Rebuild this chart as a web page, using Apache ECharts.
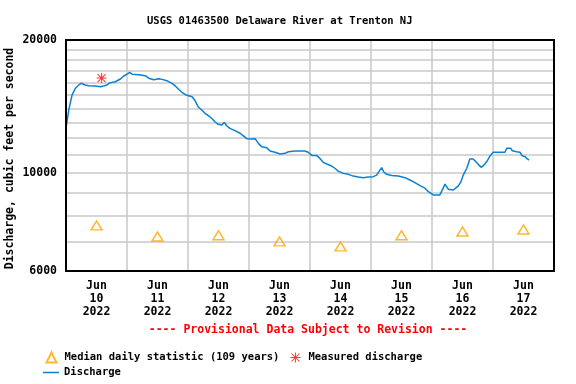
<!DOCTYPE html>
<html>
<head>
<meta charset="utf-8">
<script src="https://cdn.jsdelivr.net/npm/echarts@6/dist/echarts.min.js"></script>
<style>html,body{margin:0;padding:0;background:#fff}#c{width:576px;height:384px}</style>
</head>
<body>
<div id="c"></div>
<script>
// Discharge: hours after 2022-06-10 00:00, cubic feet per second
const dischargeHours = [0,1.1,2.4,3.7,5.0,5.9,7.6,8.9,11.5,13.5,14.8,16.1,17.4,19.4,21.4,22.7,24.0,25.1,26.0,28.6,31.2,32.5,34.5,36.5,37.8,39.7,41.7,43.0,44.3,45.6,47.2,49.6,50.8,52.0,53.4,54.7,56.0,57.3,58.6,59.9,61.3,62.3,63.2,64.5,66.5,68.5,69.8,71.1,73.0,74.4,75.7,77.0,79.0,80.3,82.2,84.2,84.9,86.2,87.5,90.1,94.0,95.3,96.7,98.6,99.3,99.9,101.2,102.6,104.5,105.8,107.1,109.1,111.1,113.0,115.0,117.0,118.9,120.9,122.2,123.1,124.2,125.1,126.2,128.1,130.7,133.4,135.3,137.3,139.3,141.2,142.6,144.5,147.1,147.8,148.4,149.1,149.8,150.4,152.4,153.3,154.3,155.4,156.3,157.7,158.9,160.2,160.9,162.2,163.3,164.2,165.5,166.8,168.1,170.1,172.7,173.4,174.0,175.0,175.6,177.3,178.6,179.5,180.6,181.5,182.2];
const dischargeValues = [12640,13890,15020,15550,15820,15960,15820,15760,15740,15680,15740,15820,16010,16090,16320,16580,16750,16900,16730,16690,16610,16390,16260,16350,16290,16180,15960,15740,15470,15230,15020,14880,14570,14120,13890,13650,13480,13300,13060,12890,12840,13020,12790,12620,12470,12300,12130,11960,11940,11960,11670,11460,11400,11210,11140,11040,10960,11080,11170,11210,11210,11140,10960,10960,11020,10790,10570,10480,10370,10250,10100,9980,9930,9840,9790,9760,9790,9810,9890,10070,10280,10040,9930,9870,9840,9760,9640,9510,9360,9240,9070,8920,8920,9000,9240,9440,9360,9190,9150,9240,9340,9560,9890,10250,10760,10760,10650,10460,10300,10390,10600,10920,11140,11140,11140,11370,11460,11370,11230,11170,11140,10940,10890,10760,10700];
// Median daily statistic (109 years), one per day, plotted at noon (hours after Jun 10 00:00)
const medianHours = [12,36,60,84,108,132,156,180];
const medianValues = [7610,7180,7230,7000,6820,7230,7370,7450];
// Measured discharge
const measuredHours = [14.0];
const measuredValues = [16400];
// Axis labels
const yLabelValues = [6000,10000,20000];
const yGridValues = [6000,7000,8000,9000,10000,11000,12000,13000,14000,15000,16000,17000,18000,19000,20000];
const xLabelHours = [12,36,60,84,108,132,156,180];
const xLabelDays = ['10','11','12','13','14','15','16','17'];
const monthName = 'Jun';
const yearName = '2022';

const dischargeData = dischargeHours.map((h, i) => [h, dischargeValues[i]]);
const medianData = medianHours.map((h, i) => [h, medianValues[i]]);
const measuredData = measuredHours.map((h, i) => [h, measuredValues[i]]);

const FONT = '"DejaVu Sans Mono", monospace';
const asterisk = 'path://M9,0L11,0L11,20L9,20Z M0,9L20,9L20,11L0,11Z M1.3,2.7L2.7,1.3L18.7,17.3L17.3,18.7Z M17.3,1.3L18.7,2.7L2.7,18.7L1.3,17.3Z';

const chart = echarts.init(document.getElementById('c'), null, {renderer: 'canvas'});
chart.setOption({
  animation: false,
  backgroundColor: '#fff',
  textStyle: {fontFamily: FONT},
  grid: {left: 66, right: 22, top: 40, bottom: 113, containLabel: false, outerBoundsMode: 'none', show: true, borderColor: '#000', borderWidth: 2, backgroundColor: 'transparent', z: 5},
  xAxis: {
    type: 'value',
    min: 0, max: 192, interval: 24,
    axisLine: {show: false},
    axisTick: {show: false},
    splitLine: {show: true, lineStyle: {color: '#c8c8c8', width: 1.5}},
    axisLabel: {
      customValues: xLabelHours,
      margin: 9,
      fontFamily: FONT, fontWeight: 'bold', fontSize: 11.5, color: '#000', lineHeight: 13,
      formatter: v => monthName + '\n' + xLabelDays[xLabelHours.indexOf(v)] + '\n' + yearName
    }
  },
  yAxis: {
    type: 'log',
    min: 6000, max: 20000,
    axisLine: {show: false},
    axisTick: {show: false, customValues: yGridValues},
    splitLine: {show: true, lineStyle: {color: '#c8c8c8', width: 1.5}},
    axisLabel: {customValues: yLabelValues, margin: 9, fontFamily: FONT, fontWeight: 'bold', fontSize: 11.5, color: '#000', formatter: v => String(Math.round(v))},
    name: 'Discharge, cubic feet per second',
    nameLocation: 'middle', nameRotate: 90, nameGap: 50, nameMoveOverlap: false,
    nameTextStyle: {fontFamily: FONT, fontWeight: 'bold', fontSize: 11.5, color: '#000', padding: [0, 6, 0, 0]}
  },
  legend: [
    {
      left: 44, top: 350, padding: 0, orient: 'horizontal', itemWidth: 10, itemHeight: 10, itemGap: 11,
      textStyle: {fontFamily: FONT, fontWeight: 'bold', fontSize: 10.5, color: '#000', padding: [0, 0, 0, 3]},
      data: ['Median daily statistic (109 years)', 'Measured discharge'],
      selectedMode: false
    },
    {
      left: 43, top: 367, padding: 0, orient: 'horizontal', itemWidth: 16, itemHeight: 1.5,
      textStyle: {fontFamily: FONT, fontWeight: 'bold', fontSize: 10.5, color: '#000'},
      data: [{name: 'Discharge', icon: 'rect'}],
      selectedMode: false
    }
  ],
  graphic: [
    {type: 'text', left: 147, top: 16, style: {text: 'USGS 01463500 Delaware River at Trenton NJ', font: 'bold 10.5px ' + FONT, fill: '#000'}},
    {type: 'text', x: 308, y: 330, style: {text: '---- Provisional Data Subject to Revision ----', font: 'bold 11.5px ' + FONT, fill: '#ff0000', align: 'center', verticalAlign: 'middle'}}
  ],
  series: [
    {
      name: 'Discharge', type: 'line', data: dischargeData, showSymbol: false, symbol: 'none',
      lineStyle: {color: '#0a80d2', width: 1.5}, itemStyle: {color: '#0a80d2'}, z: 3
    },
    {
      name: 'Median daily statistic (109 years)', type: 'scatter', data: medianData,
      symbol: 'triangle', symbolSize: [11, 9],
      itemStyle: {color: 'none', borderColor: '#ffa500', borderWidth: 1.5}, z: 4
    },
    {
      name: 'Measured discharge', type: 'scatter', data: measuredData,
      symbol: asterisk, symbolSize: 10,
      itemStyle: {color: '#ff0000'}, z: 4
    }
  ]
});
</script>
</body>
</html>
